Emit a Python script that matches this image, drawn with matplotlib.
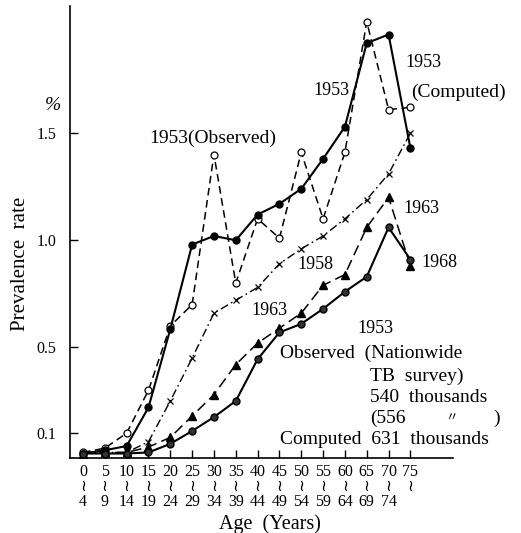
import numpy as np
import matplotlib.pyplot as plt

plt.rcParams['font.family'] = ['Liberation Serif', 'DejaVu Serif', 'DejaVu Sans']

ages = [0, 5, 10, 15, 20, 25, 30, 35, 40, 45, 50, 55, 60, 65, 70, 75]
age_ends = [4, 9, 14, 19, 24, 29, 34, 39, 44, 49, 54, 59, 64, 69, 74, None]

obs_1953 = [0.01, 0.03, 0.10, 0.30, 0.60, 0.70, 1.40, 0.80, 1.10, 1.01,
            1.41, 1.10, 1.41, 2.02, 1.61, 1.62]
comp_1953 = [0.005, 0.02, 0.04, 0.22, 0.585, 0.98, 1.02, 1.00, 1.12, 1.17,
             1.24, 1.38, 1.53, 1.92, 1.96, 1.43]
rate_1958 = [0.005, 0.01, 0.01, 0.06, 0.25, 0.45, 0.66, 0.72, 0.78, 0.89,
             0.96, 1.02, 1.10, 1.19, 1.31, 1.50]
rate_1963 = [0.005, 0.01, 0.01, 0.035, 0.08, 0.18, 0.28, 0.42, 0.52, 0.59,
             0.66, 0.79, 0.84, 1.06, 1.20, 0.88]
rate_1968 = [0.005, 0.005, 0.005, 0.01, 0.05, 0.11, 0.175, 0.25, 0.445, 0.57,
             0.61, 0.68, 0.76, 0.83, 1.06, 0.91]

yticks = [0.1, 0.5, 1.0, 1.5]
ytick_labels = ['0.1', '0.5', '1.0', '1.5']

fig = plt.figure(figsize=(5.21, 5.33), dpi=100)
ax = fig.add_axes([0.1344, 0.1407, 0.7346, 0.848])

ax.plot(ages, obs_1953, color='black', lw=1.1, ls=(0, (5, 3)),
        marker='o', ms=5, mfc='white', mec='black', mew=0.9)
ax.plot(ages, comp_1953, color='black', lw=1.5, ls='-',
        marker='o', ms=5, mfc='black', mec='black')
ax.plot(ages, rate_1958, color='black', lw=1.0, ls=(0, (6, 2.5, 1.2, 2.5)),
        marker='x', ms=4.5, mew=0.9)
ax.plot(ages, rate_1963, color='black', lw=1.1, ls=(0, (7, 3.5)),
        marker='^', ms=5.5, mfc='black', mec='black')
ax.plot(ages, rate_1968, color='black', lw=1.5, ls='-',
        marker='o', ms=5, mfc='#333333', mec='black')

ax.set_xlim(-2.97, 84.7)
ax.set_ylim(-0.016, 2.093)

ax.spines['top'].set_visible(False)
ax.spines['right'].set_visible(False)
ax.spines['left'].set_linewidth(1.2)
ax.spines['bottom'].set_linewidth(1.2)

ax.set_yticks(yticks)
ax.set_yticklabels(ytick_labels, fontsize=11.5)
xlabels = [f'{a}\n≀\n{e}' if e is not None else f'{a}\n≀\n ' for a, e in zip(ages, age_ends)]
ax.set_xticks(ages)
ax.set_xticklabels(xlabels, fontsize=11.5, linespacing=0.95)
ax.tick_params(axis='y', direction='in', length=6, width=1, pad=10)
ax.tick_params(axis='x', direction='in', length=6, width=1, pad=4)

ax.set_ylabel('Prevalence  rate', fontsize=15)
ax.yaxis.set_label_coords(-0.104, 0.429)
ax.set_xlabel('Age  (Years)', fontsize=14.5)
ax.xaxis.set_label_coords(0.522, -0.124)

fs = 14
fn = 13
ax.text(-6.9, 1.63, '%', fontsize=14, ha='center', va='center', style='italic', clip_on=False)
ax.text(29.7, 1.477, '1953(Observed)', fontsize=fs, ha='center', va='center')
ax.text(57.0, 1.70, '1953', fontsize=fn, ha='center', va='center')
ax.text(78.0, 1.83, '1953', fontsize=fn, ha='center', va='center')
ax.text(86.0, 1.69, '(Computed)', fontsize=fs, ha='center', va='center', clip_on=False)
ax.text(73.5, 1.146, '1963', fontsize=fn, ha='left', va='center')
ax.text(53.3, 0.889, '1958', fontsize=fn, ha='center', va='center')
ax.text(77.6, 0.894, '1968', fontsize=fn, ha='left', va='center', clip_on=False)
ax.text(42.8, 0.674, '1963', fontsize=fn, ha='center', va='center')
ax.text(67.0, 0.586, '1953', fontsize=fn, ha='center', va='center')
ax.text(45.1, 0.474, 'Observed  (Nationwide', fontsize=fs, ha='left', va='center', clip_on=False)
ax.text(65.7, 0.366, 'TB  survey)', fontsize=fs, ha='left', va='center', clip_on=False)
ax.text(65.7, 0.268, '540  thousands', fontsize=fs, ha='left', va='center', clip_on=False)
ax.text(65.7, 0.170, '(556', fontsize=fs, ha='left', va='center', clip_on=False)
ax.text(84.4, 0.170, '〃', fontsize=9, ha='center', va='center', clip_on=False,
        family=['Noto Sans CJK JP', 'DejaVu Sans'])
ax.text(94.7, 0.170, ')', fontsize=fs, ha='center', va='center', clip_on=False)
ax.text(45.1, 0.072, 'Computed  631  thousands', fontsize=fs, ha='left', va='center', clip_on=False)

plt.savefig('out.png', dpi=100)
